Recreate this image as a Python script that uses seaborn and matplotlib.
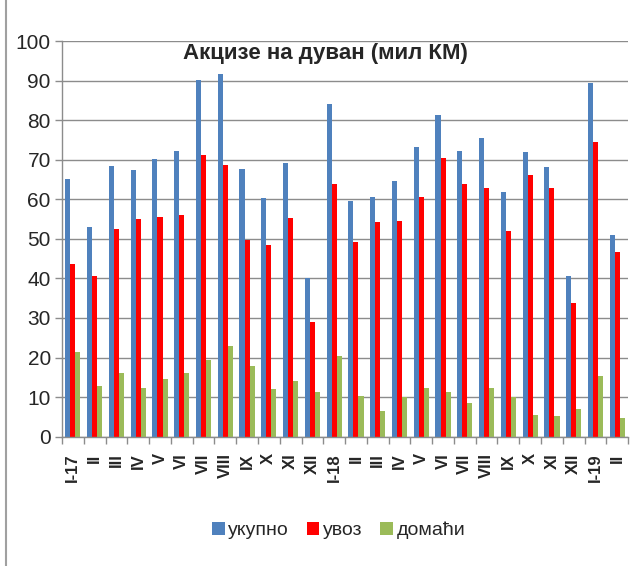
import matplotlib
matplotlib.use("Agg")
import matplotlib.pyplot as plt
import seaborn as sns
import pandas as pd
import numpy as np
from matplotlib.lines import Line2D
from matplotlib.ticker import FixedLocator

months = ["I-17", "II", "III", "IV", "V", "VI", "VII", "VIII", "IX", "X", "XI", "XII",
          "I-18", "II", "III", "IV", "V", "VI", "VII", "VIII", "IX", "X", "XI", "XII",
          "I-19", "II"]
ukupno = [65.1, 52.9, 68.4, 67.3, 70.1, 72.1, 90.2, 91.6, 67.7, 60.4, 69.2, 40.1,
          84.0, 59.6, 60.6, 64.5, 73.1, 81.4, 72.2, 75.4, 61.9, 71.9, 68.1, 40.6,
          89.4, 51.1]
uvoz = [43.6, 40.5, 52.4, 55.0, 55.6, 56.0, 71.1, 68.7, 49.7, 48.4, 55.2, 29.0,
        63.8, 49.3, 54.2, 54.5, 60.6, 70.4, 63.8, 62.9, 52.0, 66.2, 62.9, 33.9,
        74.4, 46.7]
domaci = [21.5, 12.7, 16.0, 12.4, 14.6, 16.2, 19.3, 22.8, 17.9, 12.1, 14.1, 11.4,
          20.3, 10.3, 6.5, 10.0, 12.3, 11.4, 8.5, 12.3, 10.0, 5.5, 5.2, 7.1,
          15.3, 4.7]
series_names = ["укупно", "увоз", "домаћи"]
colors = ["#4F81BD", "#FF0000", "#9BBB59"]
title = "Акцизе на дуван (мил КМ)"

sns.set_theme(style="white")
plt.rcParams['font.family'] = ['Liberation Sans', 'DejaVu Sans']

idx = list(range(len(months)))
df = pd.DataFrame({
    "pos": idx * 3,
    "val": ukupno + uvoz + domaci,
    "serija": [series_names[0]] * len(idx) + [series_names[1]] * len(idx) + [series_names[2]] * len(idx),
})

fig = plt.figure(figsize=(6.39, 5.66), dpi=100)
ax = fig.add_axes([0.097, 0.2285, 0.886, 0.699])

sns.barplot(data=df, x="pos", y="val", hue="serija", hue_order=series_names,
            palette=colors, width=0.7, saturation=1, ax=ax, legend=True,
            order=idx, linewidth=0)

ax.set_ylim(0, 100)
ax.set_xlim(-0.5, len(months) - 0.5)
ax.set_yticks(range(0, 101, 10))
ax.yaxis.grid(True, color="#8C8C8C", linewidth=1.0)
ax.set_axisbelow(True)
ax.set_xticks(idx)
ax.set_xticklabels(months, rotation=90, fontsize=12, fontweight="bold")
ax.xaxis.set_minor_locator(FixedLocator(np.arange(-0.5, len(months), 1.0)))
ax.tick_params(axis="x", which="major", length=0, pad=12)
ax.tick_params(axis="x", which="minor", length=5, color="#8C8C8C", width=1, direction="out", bottom=True)
ax.tick_params(axis="y", length=5, color="#8C8C8C", width=1, direction="out", left=True, labelsize=15, pad=3)
for s in ["top", "right"]:
    ax.spines[s].set_visible(False)
for s in ["left", "bottom"]:
    ax.spines[s].set_color("#8C8C8C")
    ax.spines[s].set_linewidth(1.0)
ax.set_xlabel("")
ax.set_ylabel("")

fig.text(0.51, 0.906, title, ha="center", va="center",
         fontsize=16, fontweight="bold")

handles, labels = ax.get_legend_handles_labels()
ax.get_legend().remove()
fig.legend(handles, labels, loc="center", bbox_to_anchor=(0.53, 0.063), ncol=3,
           frameon=False, fontsize=14, handlelength=0.65, handleheight=0.65,
           handletextpad=0.2, columnspacing=0.9)

fig.add_artist(Line2D([0.009, 0.009], [0.0, 1.0], transform=fig.transFigure,
                      color="#A0A0A0", linewidth=1.5))

fig.savefig("out.png", dpi=100)
